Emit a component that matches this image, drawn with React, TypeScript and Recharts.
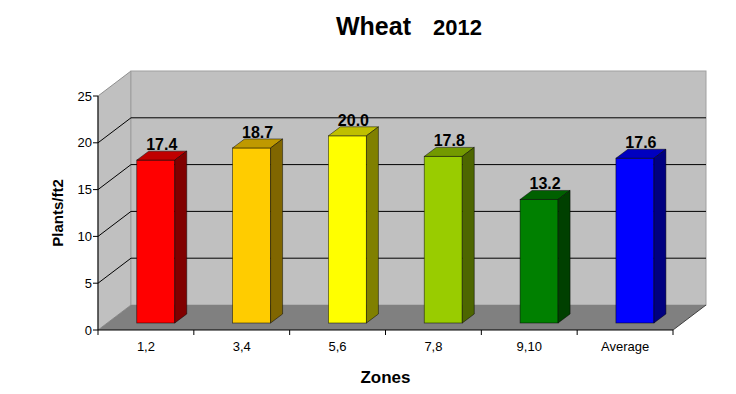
import React from 'react';
import {
  BarChart,
  Bar,
  XAxis,
  YAxis,
  CartesianGrid,
  ReferenceArea,
  LabelList
} from 'recharts';

const zones = ['1,2', '3,4', '5,6', '7,8', '9,10', 'Average'];
const plantsPerFt2 = [17.4, 18.7, 20.0, 17.8, 13.2, 17.6];
const yTicks = [0, 5, 10, 15, 20, 25];
const gridValues = [5, 10, 15, 20];

const frontColors = ['#FF0000', '#FFCC00', '#FFFF00', '#99CC00', '#008000', '#0000FF'];
const topColors = ['#C00000', '#BF9900', '#BFBF00', '#739900', '#006000', '#0000C0'];
const sideColors = ['#800000', '#806600', '#808000', '#4D6600', '#004000', '#000080'];

const data = zones.map((zone, i) => ({ zone, value: plantsPerFt2[i] }));

const FONT = '"Liberation Sans", Arial, sans-serif';

// profondeur des murs et des barres (effet 3D)
const WALL_DX = 33;
const WALL_DY = 25;
const BAR_OFF_X = 10;
const BAR_OFF_Y = 7;
const BAR_DX = 12;
const BAR_DY = 9;

const Walls = (props: any) => {
  const { x, y, width, height } = props;
  const b = y + height;
  const r = x + width;
  return (
    <g>
      <polygon
        points={`${x},${y} ${x + WALL_DX},${y - WALL_DY} ${x + WALL_DX},${b - WALL_DY} ${x},${b}`}
        fill="#C0C0C0"
        stroke="#909090"
      />
      <rect x={x + WALL_DX} y={y - WALL_DY} width={width} height={height} fill="#C0C0C0" stroke="#A0A0A0" />
      <polygon
        points={`${x},${b} ${x + WALL_DX},${b - WALL_DY} ${r + WALL_DX},${b - WALL_DY} ${r},${b}`}
        fill="#808080"
      />
      <line x1={r} y1={b} x2={r + WALL_DX} y2={b - WALL_DY} stroke="#404040" />
    </g>
  );
};

const GridLine = (props: any) => {
  const { x1, y1, x2 } = props;
  return (
    <g key={props.key}>
      <line x1={x1} y1={y1} x2={x1 + WALL_DX} y2={y1 - WALL_DY} stroke="#000" />
      <line x1={x1 + WALL_DX} y1={y1 - WALL_DY} x2={x2 + WALL_DX} y2={y1 - WALL_DY} stroke="#000" />
    </g>
  );
};

const Bar3D = (props: any) => {
  const { x, y, width, height, index } = props;
  const fx = x + BAR_OFF_X;
  const fy = y - BAR_OFF_Y;
  const rx = fx + width;
  return (
    <g stroke="#000" strokeOpacity={0.6} strokeWidth={0.8}>
      <rect x={fx} y={fy} width={width} height={height} fill={frontColors[index]} />
      <polygon
        points={`${fx},${fy} ${fx + BAR_DX},${fy - BAR_DY} ${rx + BAR_DX},${fy - BAR_DY} ${rx},${fy}`}
        fill={topColors[index]}
      />
      <polygon
        points={`${rx},${fy} ${rx + BAR_DX},${fy - BAR_DY} ${rx + BAR_DX},${fy - BAR_DY + height} ${rx},${fy + height}`}
        fill={sideColors[index]}
      />
    </g>
  );
};

const ValueLabel = (props: any) => {
  const { x, y, width, value } = props;
  return (
    <text
      x={x + BAR_OFF_X + (width + BAR_DX) / 2}
      y={y - BAR_OFF_Y - BAR_DY - 1}
      textAnchor="middle"
      fontFamily={FONT}
      fontSize={16}
      fontWeight="bold"
      fill="#000"
    >
      {Number(value).toFixed(1)}
    </text>
  );
};

const ZoneTick = (props: any) => {
  const { x, y, payload, index, width, visibleTicksCount } = props;
  const band = width / (visibleTicksCount || zones.length);
  const axisY = y - 12;
  return (
    <g>
      <line x1={x - band / 2} y1={axisY} x2={x - band / 2} y2={axisY + 5} stroke="#000" />
      {index === zones.length - 1 && (
        <line x1={x + band / 2} y1={axisY} x2={x + band / 2} y2={axisY + 5} stroke="#000" />
      )}
      <text x={x} y={y} dy="0.71em" textAnchor="middle" fontFamily={FONT} fontSize={13} fill="#000">
        {payload.value}
      </text>
    </g>
  );
};

const renderXLabel = (props: any) => {
  const { x, y, width } = props.viewBox;
  return (
    <text x={x + width / 2} y={y + 53} textAnchor="middle" fontFamily={FONT} fontSize={17} fontWeight="bold" fill="#000">
      Zones
    </text>
  );
};

const renderYLabel = (props: any) => {
  const { x, y, height } = props.viewBox;
  const cx = x + 25;
  const cy = y + height / 2;
  return (
    <text
      x={cx}
      y={cy}
      transform={`rotate(-90, ${cx}, ${cy})`}
      textAnchor="middle"
      fontFamily={FONT}
      fontSize={15}
      fontWeight="bold"
      fill="#000"
    >
      Plants/ft2
    </text>
  );
};

export default function App() {
  return (
    <div style={{ position: 'absolute', left: 0, top: 0, width: 736, height: 394, background: '#fff' }}>
      <svg width={736} height={50} style={{ position: 'absolute', left: 0, top: 0 }}>
        <text x={336} y={35} fontFamily={FONT} fontWeight="bold" fill="#000">
          <tspan fontSize={25}>Wheat</tspan>
          <tspan x={433} fontSize={22}>2012</tspan>
        </text>
      </svg>
      <BarChart
        width={736}
        height={394}
        data={data}
        margin={{ top: 96, right: 63, left: 38, bottom: 34 }}
        barCategoryGap="30%"
      >
        <ReferenceArea y1={0} y2={25} shape={Walls} zIndex={-200} ifOverflow="visible" />
        <CartesianGrid vertical={false} horizontalValues={gridValues} horizontal={GridLine} />
        <XAxis
          dataKey="zone"
          tickLine={false}
          tickSize={5}
          tickMargin={7}
          axisLine={{ stroke: '#000' }}
          tick={ZoneTick}
          interval={0}
          label={{ content: renderXLabel }}
        />
        <YAxis
          domain={[0, 25]}
          ticks={yTicks}
          width={60}
          tickSize={5}
          tickMargin={1}
          axisLine={{ stroke: '#000' }}
          tickLine={{ stroke: '#000' }}
          tick={{ fill: '#000', fontSize: 13, fontFamily: FONT }}
          label={{ content: renderYLabel }}
        />
        <Bar dataKey="value" shape={Bar3D} isAnimationActive={false}>
          <LabelList dataKey="value" content={ValueLabel} />
        </Bar>
      </BarChart>
    </div>
  );
}
